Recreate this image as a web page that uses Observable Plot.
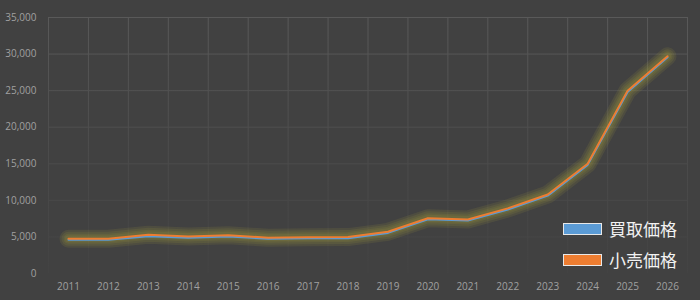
<!DOCTYPE html>
<html>
<head>
<meta charset="utf-8">
<script src="https://cdn.jsdelivr.net/npm/d3@7"></script>
<script src="https://cdn.jsdelivr.net/npm/@observablehq/plot@0.6"></script>
<style>
  html, body { margin: 0; padding: 0; background: #414141; }
  #wrap { position: relative; width: 700px; height: 300px; overflow: hidden; background: #414141; }
  #legend { position: absolute; left: 563px; top: 213px; font-family: "Noto Sans CJK JP", sans-serif; color: #f2f2f2; font-size: 17px; }
  .row { display: flex; align-items: center; height: 31px; }
  .sw { width: 37px; height: 10px; border: 1px solid #e8e8e8; margin-right: 7px; }
</style>
</head>
<body>
<div id="wrap"><div id="legend"></div></div>
<script>
const years = [2011, 2012, 2013, 2014, 2015, 2016, 2017, 2018, 2019, 2020, 2021, 2022, 2023, 2024, 2025, 2026];
const buyPrice = [4600, 4600, 5100, 4900, 5050, 4750, 4820, 4830, 5550, 7400, 7250, 8750, 10650, 14850, 24800, 29550];
const retailPrice = [4750, 4750, 5290, 5060, 5240, 4880, 4960, 4980, 5700, 7560, 7380, 8900, 10800, 15000, 25000, 29700];
const seriesNames = ["買取価格", "小売価格"];
const seriesColors = ["#5B9BD5", "#ED7D31"];
const yTicks = [0, 5000, 10000, 15000, 20000, 25000, 30000, 35000];

const buyRows = years.map((y, i) => ({year: y, value: buyPrice[i], series: seriesNames[0]}));
const retailRows = years.map((y, i) => ({year: y, value: retailPrice[i], series: seriesNames[1]}));
const bounds = years.map(y => y - 0.5).concat([years[years.length - 1] + 0.5]);

const glowLayers = [18, 14, 10, 7].map(w =>
  Plot.line(retailRows, {x: "year", y: "value", stroke: "#a8a640", strokeWidth: w, strokeOpacity: 0.13, strokeLinecap: "round", strokeLinejoin: "round"})
);

const plot = Plot.plot({
  width: 700,
  height: 300,
  marginLeft: 48,
  marginRight: 13,
  marginTop: 17,
  marginBottom: 27,
  style: {background: "#414141", fontFamily: "'Open Sans', sans-serif", fontSize: "10px", color: "#a0a0a0"},
  x: {domain: [years[0] - 0.5, years[years.length - 1] + 0.5], label: null},
  y: {domain: [0, 35000], label: null},
  marks: [
    Plot.ruleY(yTicks.slice(1), {stroke: "url(#gridGrad)", strokeWidth: 1}),
    Plot.ruleX(bounds, {stroke: "url(#gridGrad)", strokeWidth: 1}),
    Plot.axisY({ticks: yTicks, tickSize: 0, tickPadding: 12, tickFormat: d3.format(","), fill: "#a0a0a0", label: null}),
    Plot.axisX({ticks: years, tickSize: 0, tickPadding: 9, tickFormat: d => String(d), fill: "#a0a0a0", label: null}),
    ...glowLayers,
    Plot.line(buyRows, {x: "year", y: "value", stroke: seriesColors[0], strokeWidth: 2}),
    Plot.line(retailRows, {x: "year", y: "value", stroke: seriesColors[1], strokeWidth: 2})
  ]
});

const svg = d3.select(plot);
const defs = svg.insert("defs", ":first-child");
const g = defs.append("linearGradient").attr("id", "gridGrad").attr("gradientUnits", "userSpaceOnUse")
  .attr("x1", 0).attr("y1", 17).attr("x2", 0).attr("y2", 273);
g.append("stop").attr("offset", "0%").attr("stop-color", "#595959");
g.append("stop").attr("offset", "55%").attr("stop-color", "#4b4b4b");
g.append("stop").attr("offset", "100%").attr("stop-color", "#434343");

document.getElementById("wrap").insertBefore(plot, document.getElementById("legend"));

const legend = d3.select("#legend");
seriesNames.forEach((name, i) => {
  const row = legend.append("div").attr("class", "row");
  row.append("div").attr("class", "sw").style("background", seriesColors[i]);
  row.append("span").text(name);
});
</script>
</body>
</html>
